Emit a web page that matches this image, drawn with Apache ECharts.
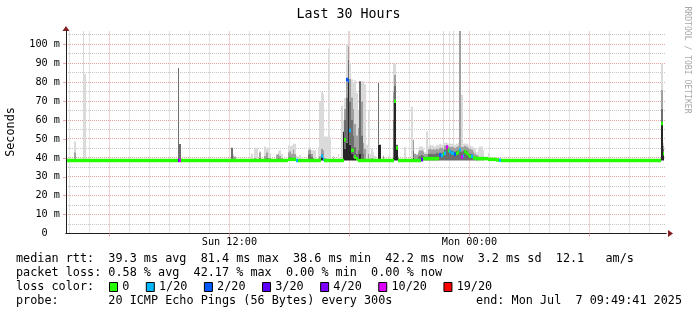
<!DOCTYPE html>
<html><head><meta charset="utf-8">
<script src="https://cdn.jsdelivr.net/npm/echarts@6/dist/echarts.min.js"></script>
<style>html,body{margin:0;padding:0;background:#fff}#c{width:697px;height:315px}</style>
</head><body><div id="c"></div>
<script>
// ---------------- data ----------------
const rangeStartHour = 3 + 49/60 + 41/3600;   // Sun 03:49:41, hours after Sun 00:00
const rangeHours = 30;
const firstStepHour = 3 + 50/60;              // first 5-minute RRD step
const stepHours = 5/60;
const xTickHours = [12, 24];
const xTickLabels = ['Sun 12:00', 'Mon 00:00'];
const xMajorHours = [6, 12, 18, 24, 30];
const yTickValues = [0, 10, 20, 30, 40, 50, 60, 70, 80, 90, 100];
const yTickLabels = ['0  ', '10 m', '20 m', '30 m', '40 m', '50 m', '60 m', '70 m', '80 m', '90 m', '100 m'];
const yMax = 107.1;   // ms

// smoke (ping spread per step, ms): bands low->dark->mid->soft->high
const smokeStep = [5,10,11,67,68,99,100,101,111,113,
  114,116,119,120,121,122,126,127,128,129,
  133,134,135,136,137,138,140,145,146,147,
  148,149,151,152,153,154,155,156,157,158,
  160,163,165,166,167,168,169,170,171,172,
  173,174,175,176,177,178,179,180,181,182,
  183,184,185,187,188,190,193,196,197,198,
  199,203,207,208,209,210,211,212,213,214,
  215,216,217,218,219,220,221,222,223,224,
  225,226,227,228,229,230,231,232,233,234,
  235,236,237,238,239,240,241,242,243,244,
  245,246,247,248,249,250,253,255,357,358];
const smokeLow = [38.6,38.6,38.6,38.6,38.6,38.6,38.6,38.6,38.6,38.6,
  38.6,38.6,38.6,38.6,38.6,38.6,38.6,38.6,38.6,38.6,
  38.6,38.6,38.6,38.6,38.6,38.6,38.6,38.6,38.6,38.6,
  38.6,38.6,38.6,38.6,38.6,38.6,38.6,38.6,38.6,38.6,
  38.6,38.6,38.6,38.6,38.6,38.6,38.6,38.6,38.6,38.6,
  38.6,38.6,38.6,38.6,38.6,38.6,38.6,38.6,38.6,38.6,
  38.6,38.6,38.6,38.6,38.6,38.6,38.6,38.6,38.6,38.6,
  38.6,38.6,38.6,38.6,38.6,38.6,38.6,38.6,38.6,38.6,
  38.6,38.6,38.6,38.6,38.6,38.6,38.6,38.6,38.6,38.6,
  38.6,38.6,38.6,38.6,38.6,38.6,38.6,38.6,38.6,38.6,
  38.6,38.6,38.6,38.6,38.6,38.6,38.6,38.6,38.6,38.6,
  38.6,38.6,38.6,38.6,38.6,38.6,38.6,38.6,38.6,38.6];
const smokeDark = [38.6,38.6,38.6,38.6,38.6,38.6,38.6,38.6,38.6,38.6,
  38.6,38.6,38.6,38.6,38.6,38.6,38.6,38.6,38.6,38.6,
  38.6,38.6,38.6,38.6,38.6,38.6,38.6,38.6,38.6,38.6,
  38.6,38.6,38.6,38.6,41,38.6,38.6,38.6,38.6,38.6,
  38.6,38.6,38.6,54,45,48,81.4,47,42,40,
  39.5,38.6,38.6,42,38.6,38.6,38.6,38.6,38.6,38.6,
  38.6,38.6,38.6,47,47,38.6,38.6,40,70,45,
  38.6,38.6,38.6,40,38.6,38.6,38.6,38.6,38.6,38.6,
  38.6,38.6,38.6,38.6,38.6,38.6,38.6,38.6,38.6,38.6,
  38.6,38.6,38.6,38.6,38.6,38.6,38.6,38.6,38.6,38.6,
  38.6,38.6,38.6,38.6,38.6,38.6,38.6,38.6,38.6,38.6,
  38.6,38.6,38.6,38.6,38.6,38.6,38.6,38.6,58.4,43.4];
const smokeMid = [38.6,38.6,38.6,87.5,47.3,45.4,38.6,38.6,38.6,38.6,
  38.6,40,38.6,40,38.6,38.6,39.5,40,38.6,38.6,
  40,40.5,38.6,38.6,38.6,38.6,38.6,41.5,42,40.5,
  38.6,38.6,38.6,38.6,42,40,38.6,38.6,38.6,38.6,
  38.6,38.6,38.6,54,60,72,92,70,60,52,
  46,42,44,80.5,52,42,38.6,38.6,38.6,38.6,
  38.6,38.6,38.6,79.6,47,38.6,38.6,60,78,47,
  38.6,38.6,38.6,44,38.6,38.6,40.5,41,41.5,41,
  40,40,42,42.5,42,42.5,42,43,42,43,
  43,43,44.5,45.5,45,44.5,44,44,43.5,44,
  44.5,45,43.5,44,44.5,44,43,42.5,42,41,
  40.5,40,38.6,38.6,38.6,38.6,38.6,38.6,66,45];
const smokeSoft = [43,38.6,38.6,87.5,47.3,45.4,41,40.5,38.6,40,
  38.6,43,41,43,40,40,41.5,42,41,40,
  43,43.5,42,44.5,42,39.5,38.6,44,44.5,42,
  40,38.6,40,41,45,44,40,38.6,38.6,38.6,
  40,38.6,38.6,54,66,82,99,82,72,66,
  58,52,56,80.5,70,48,45,38.6,42,38.6,
  40,38.6,39.5,79.6,47,41,38.6,75,84,47,
  40.5,38.6,38.6,49.6,42,41.5,43,44,44,43.5,
  42,42,44.5,45,44.5,45,44.5,45,44.5,45.5,
  45.5,45,46.5,47,46.5,46,46,46,45.5,46,
  46.5,107.1,46,46,46.5,46,45.5,45,44.5,43.5,
  42.5,41.5,41,40,40,39.5,38.6,38.6,76,46.5];
const smokeHigh = [48.7,107.1,84.3,87.5,47.3,45.4,42,41,42.2,45.4,
  45.4,43.5,46,45.4,45.4,42.5,42,43.5,44,42,
  46.6,46,46.6,47.5,47.5,41,41.5,45.6,45.6,44,
  44,44,45.7,69.9,74.8,73.8,51.3,51.3,97.8,51,
  41,42,67.5,60,71.6,100,107.1,90,81.4,80,
  81,74.3,65,80.5,80.5,80.5,79,47,65.5,42,
  45,43,41,79.6,47,41.5,41,90.2,90,47,
  41,45.7,67.2,49.6,42.5,42,44,46,46,45,
  43,54,46,47,46.5,47,46,47,46.5,47.5,
  47,107.1,48,48,47.5,47.6,47.5,107.1,47,47.5,
  48,107.1,73.4,47.5,47.6,47.5,47,46.5,46,45.5,
  45,43,45,46,46,44,42.5,40,89.8,47.8];

// median rtt runs (step from..to inclusive), value in ms, lost pings of 20
const medianFrom = [0,67,68,69,133,138,139,153,154,155,167,168,169,170,171,173,174,175,197,198,199,213,214,224,225,226,227,228,229,230,231,233,234,235,236,237,238,239,240,241,242,243,244,246,253,258,260,261,357,358];
const medianTo   = [66,67,68,132,137,138,152,153,154,166,167,168,169,170,172,173,174,196,197,198,212,213,223,224,225,226,227,228,229,230,232,233,234,235,236,237,238,239,240,241,242,243,245,252,257,259,260,356,357,358];
const medianRtt  = [38.6,38.6,38.6,38.6,39.2,38.6,38.6,41,39.3,38.6,49.6,81.4,80.8,54.5,44,40.4,39.5,38.6,70,45.2,38.6,39,39.6,41.6,41.3,42,42.5,45.8,44,43.4,42.5,41.9,42.5,43,44.3,40.4,41,43.4,42.5,41.6,40.8,40.8,39.9,39.6,39.2,38.9,38.8,38.6,58.2,42.2];
const medianLoss = [0,3,10,0,0,1,0,1,1,0,0,2,2,1,0,0,0,0,0,0,0,3,0,2,1,0,1,10,0,1,1,2,0,0,1,10,1,0,0,0,0,1,0,0,0,0,1,0,0,0];

// loss legend
const lossCounts = [0, 1, 2, 3, 4, 10, 19];
const lossLabels = ['0', '1/20', '2/20', '3/20', '4/20', '10/20', '19/20'];
const lossColors = ['#26ff00', '#00b8ff', '#0059ff', '#5e00ff', '#7e00ff', '#dd00ff', '#ff0000'];

const statLines = [
  'median rtt:  39.3 ms avg  81.4 ms max  38.6 ms min  42.2 ms now  3.2 ms sd  12.1   am/s',
  'packet loss: 0.58 % avg  42.17 % max  0.00 % min  0.00 % now',
  'loss color:',
  'probe:       20 ICMP Echo Pings (56 Bytes) every 300s'
];
const endText = 'end: Mon Jul  7 09:49:41 2025';
const titleText = 'Last 30 Hours';
const unitText = 'Seconds';
const watermarkText = 'RRDTOOL / TOBI OETIKER';

// ---------------- styling ----------------
const MONO = '"DejaVu Sans Mono", monospace';
const SMOKE_TONES = ['#262626', '#6e6e6e', '#a0a0a0', '#dadada'];
const GRID_MINOR = '#c6c6c6';
const GRID_MAJOR = '#eaa4a4';

function lossColor(n) {
  let c = lossColors[0];
  for (let i = 0; i < lossCounts.length; i++) if (n >= lossCounts[i]) c = lossColors[i];
  return c;
}

const xMin = rangeStartHour, xMax = rangeStartHour + rangeHours;
const hourLinesMinor = [], hourLinesMajor = [];
for (let h = Math.ceil(xMin); h <= xMax; h++) (h % 6 === 0 ? hourLinesMajor : hourLinesMinor).push(h);
const yLinesMinor = [], yLinesMajor = [];
for (let v = 5; v < yMax; v += 5) (v % 10 === 0 ? yLinesMajor : yLinesMinor).push(v);

const smokeData = smokeStep.map((k, i) => [firstStepHour + (k + 0.5) * stepHours,
  smokeLow[i], smokeDark[i], smokeMid[i], smokeSoft[i], smokeHigh[i]]);
const medianData = medianFrom.map((f, i) => [firstStepHour + f * stepHours,
  firstStepHour + (medianTo[i] + 1) * stepHours, medianRtt[i], medianLoss[i]]);

const snap = p => Math.round(p - 0.5) + 0.5;
function hLineRenderer(color) {
  return function (params, api) {
    const y = snap(api.coord([xMin, api.value(0)])[1]);
    const xa = api.coord([xMin, 0])[0], xb = api.coord([xMax, 0])[0];
    return { type: 'line', shape: { x1: xa, y1: y, x2: xb, y2: y },
      style: { stroke: color, lineWidth: 1, lineDash: [1, 1] } };
  };
}
function vLineRenderer(color) {
  return function (params, api) {
    const x = snap(api.coord([api.value(0), 0])[0]);
    const ya = api.coord([xMin, 0])[1], yb = api.coord([xMin, yMax])[1];
    return { type: 'line', shape: { x1: x, y1: ya, x2: x, y2: yb },
      style: { stroke: color, lineWidth: 1, lineDash: [1, 1] } };
  };
}

function renderSmoke(params, api) {
  const c = api.value(0);
  const xa = Math.round(api.coord([c - stepHours / 2, 0])[0]);
  const xb = Math.round(api.coord([c + stepHours / 2, 0])[0]);
  const v = [api.value(1), api.value(2), api.value(3), api.value(4), api.value(5)];
  const children = [];
  for (let j = 0; j < 4; j++) {
    if (v[j + 1] <= v[j]) continue;
    const yLo = api.coord([c, v[j]])[1];
    const yHi = api.coord([c, Math.min(v[j + 1], yMax)])[1];
    children.push({ type: 'rect', shape: { x: xa, y: yHi, width: xb - xa, height: yLo - yHi },
      style: { fill: SMOKE_TONES[j] } });
  }
  return { type: 'group', children };
}
function renderMedian(params, api) {
  const xa = Math.round(api.coord([api.value(0), 0])[0]);
  const xb = Math.round(api.coord([api.value(1), 0])[0]);
  const yc = api.coord([api.value(0), api.value(2)])[1];
  return { type: 'rect', shape: { x: xa, y: yc - 1.75, width: xb - xa, height: 3.5 },
    style: { fill: lossColor(api.value(3)) } };
}

// text measuring for the legend row
const mctx = document.createElement('canvas').getContext('2d');
mctx.font = '11.8px ' + MONO;
const tw = s => mctx.measureText(s).width;

const graphics = [];
const lineY = [259, 273, 287, 301];
statLines.forEach((t, i) => graphics.push({ type: 'text', x: 16, y: lineY[i], silent: true,
  style: { text: t, fontFamily: MONO, fontSize: 11.8, fill: '#000', verticalAlign: 'middle' } }));
graphics.push({ type: 'text', x: 682, y: lineY[3], silent: true,
  style: { text: endText, fontFamily: MONO, fontSize: 11.8, fill: '#000', align: 'right', verticalAlign: 'middle' } });
let bx = 109;
lossLabels.forEach((lab, i) => {
  graphics.push({ type: 'rect', silent: true, shape: { x: bx + 0.5, y: 282.5, width: 8, height: 9 },
    style: { fill: lossColors[i], stroke: '#000', lineWidth: 1 } });
  const lx = bx + 13.2;
  graphics.push({ type: 'text', x: lx, y: lineY[2], silent: true,
    style: { text: lab, fontFamily: MONO, fontSize: 11.8, fill: '#000', verticalAlign: 'middle' } });
  bx = lx + tw(lab) + 16.5;
});
graphics.push({ type: 'text', x: 687.5, y: 60, rotation: -Math.PI / 2, silent: true,
  style: { text: watermarkText, fontFamily: MONO, fontSize: 8.1, fill: '#a8a8a8', align: 'center', verticalAlign: 'middle' } });
graphics.push({ type: 'text', x: 11, y: 132, rotation: Math.PI / 2, silent: true,
  style: { text: unitText, fontFamily: MONO, fontSize: 11.8, fill: '#000', align: 'center', verticalAlign: 'middle' } });

const chart = echarts.init(document.getElementById('c'), null, { renderer: 'canvas' });
chart.setOption({
  animation: false,
  backgroundColor: '#fff',
  title: { text: titleText, left: 'center', top: 8, padding: 0,
    textStyle: { fontFamily: MONO, fontSize: 13.3, fontWeight: 'normal', color: '#000' } },
  grid: { left: 66, right: 31, top: 31, bottom: 81.5, containLabel: false, outerBoundsMode: 'none' },
  xAxis: [
    { type: 'value', min: xMin, max: xMax, position: 'bottom', z: 3,
      axisLine: { show: true, onZero: false, lineStyle: { color: '#1f1f1f', width: 1 } },
      axisTick: { show: true, length: 3, customValues: xMajorHours, lineStyle: { color: GRID_MAJOR } },
      splitLine: { show: false },
      axisLabel: { customValues: xTickHours, formatter: v => { const i = xTickHours.indexOf(v); return i >= 0 ? xTickLabels[i] : ''; },
        fontFamily: MONO, fontSize: 10.2, color: '#000', margin: 4 } },
    { type: 'value', min: xMin, max: xMax, position: 'bottom', z: 2,
      axisLine: { show: true, onZero: false, lineStyle: { color: '#801f1f', width: 1 },
        symbol: ['none', 'triangle'], symbolSize: [7, 5], symbolOffset: [0, 4.5] },
      axisTick: { show: false }, splitLine: { show: false }, axisLabel: { show: false } }
  ],
  yAxis: [
    { type: 'value', min: 0, max: yMax, position: 'left', z: 3,
      axisLine: { show: true, onZero: false, lineStyle: { color: '#1f1f1f', width: 1 } },
      axisTick: { show: true, length: 3, customValues: yTickValues.slice(1), lineStyle: { color: GRID_MAJOR } },
      splitLine: { show: false },
      axisLabel: { customValues: yTickValues, formatter: v => { const i = yTickValues.indexOf(v); return i >= 0 ? yTickLabels[i] : ''; },
        fontFamily: MONO, fontSize: 10.2, color: '#000', margin: 6 } },
    { type: 'value', min: 0, max: yMax, position: 'left', z: 2,
      axisLine: { show: true, onZero: false, lineStyle: { color: '#801f1f', width: 1 },
        symbol: ['none', 'triangle'], symbolSize: [7, 5], symbolOffset: [0, 2.5] },
      axisTick: { show: false }, splitLine: { show: false }, axisLabel: { show: false } }
  ],
  graphic: graphics,
  series: [
    { type: 'custom', z: 1, silent: true, renderItem: hLineRenderer(GRID_MINOR), data: yLinesMinor.map(v => [v]), encode: { y: 0 } },
    { type: 'custom', z: 1, silent: true, renderItem: vLineRenderer(GRID_MINOR), data: hourLinesMinor.map(h => [h]), encode: { x: 0 } },
    { type: 'custom', z: 1, silent: true, renderItem: hLineRenderer(GRID_MAJOR), data: yLinesMajor.map(v => [v]), encode: { y: 0 } },
    { type: 'custom', z: 1, silent: true, renderItem: vLineRenderer(GRID_MAJOR), data: hourLinesMajor.map(h => [h]), encode: { x: 0 } },
    { type: 'custom', z: 2, silent: true, renderItem: renderSmoke, data: smokeData, encode: { x: 0, y: 5 } },
    { type: 'custom', z: 3, silent: true, renderItem: renderMedian, data: medianData, encode: { x: [0, 1], y: 2 } }
  ]
});
</script></body></html>
